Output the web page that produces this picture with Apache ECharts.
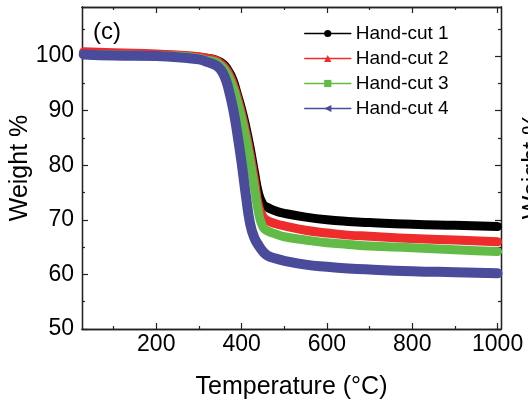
<!DOCTYPE html>
<html lang="en">
<head>
    <meta charset="UTF-8">
    <title>TGA</title>
    <style>
        html, body { margin: 0; padding: 0; background: #fff; }
    </style>
</head>
<body>
<div id="main" style="width:528px;height:400px"></div>
<script src="https://cdn.jsdelivr.net/npm/echarts@6/dist/echarts.min.js"></script>
<script>
    // temperature (°C) shared by all four curves
    var temps = [30, 100, 200, 250, 300, 320, 340, 350, 360, 370, 380, 390, 400, 410, 420, 430, 440, 450, 460, 480, 500, 550, 600, 650, 700, 800, 900, 1000];
    var cut1 = [100.6, 100.4, 100.2, 100.1, 99.8, 99.6, 99.3, 98.9, 98.3, 97.2, 95.6, 93.0, 90.3, 87.0, 83.2, 78.8, 74.8, 72.9, 72.3, 71.6, 71.2, 70.5, 70.0, 69.7, 69.5, 69.2, 69.0, 68.8];
    var cut2 = [100.8, 100.6, 100.4, 100.2, 99.9, 99.6, 99.2, 98.7, 98.0, 96.8, 95.0, 92.4, 89.5, 86.0, 82.0, 77.5, 72.5, 70.6, 69.9, 69.3, 68.9, 68.1, 67.6, 67.2, 67.0, 66.6, 66.3, 66.0];
    var cut3 = [100.3, 100.2, 100.1, 100.0, 99.6, 99.2, 98.9, 98.3, 97.5, 96.2, 94.3, 91.6, 88.6, 85.0, 80.8, 76.0, 71.2, 68.7, 68.0, 67.4, 66.9, 66.3, 65.8, 65.5, 65.2, 64.9, 64.5, 64.2];
    var cut4 = [100.3, 100.1, 100.0, 99.8, 99.4, 98.9, 98.3, 97.6, 96.3, 93.8, 90.4, 85.8, 80.5, 74.5, 69.3, 66.7, 65.3, 64.2, 63.5, 62.9, 62.5, 61.8, 61.4, 61.1, 60.9, 60.6, 60.4, 60.2];

    var names = ['Hand-cut 1', 'Hand-cut 2', 'Hand-cut 3', 'Hand-cut 4'];
    var colors = ['#000000', '#ee2c2c', '#62bb46', '#4b4b9c'];
    var symbols = ['circle', 'triangle', 'rect', 'path://M0,5L10,0L10,10Z'];

    var xMajor = [200, 400, 600, 800, 1000];
    var xMinor = [100, 300, 500, 700, 900];
    var yMajor = [50, 60, 70, 80, 90, 100];
    var yMinor = [55, 65, 75, 85, 95, 105];

    var font = '"Liberation Sans", Arial, sans-serif';
    var axisColor = '#222';

    function zip(xs, ys) {
        var out = [];
        for (var i = 0; i < xs.length; i++) out.push([xs[i], ys[i]]);
        return out;
    }

    function plain(v) { return String(v); }

    function xAx(pos, ticks, len, labels) {
        return {
            type: 'value', position: pos, min: 26, max: 1008,
            axisLine: {show: true, onZero: false, lineStyle: {color: axisColor, width: 1.3}},
            axisTick: {show: true, inside: true, length: len, customValues: ticks, lineStyle: {color: axisColor, width: 1.2}},
            axisLabel: labels ? {show: true, customValues: ticks, formatter: plain, color: '#000', fontSize: 23, fontFamily: font, margin: 4} : {show: false},
            splitLine: {show: false}
        };
    }

    function yAx(pos, ticks, len, labels) {
        return {
            type: 'value', position: pos, min: 50, max: 109,
            axisLine: {show: true, onZero: false, lineStyle: {color: axisColor, width: 1.3}},
            axisTick: {show: true, inside: true, length: len, customValues: ticks, lineStyle: {color: axisColor, width: 1.2}},
            axisLabel: labels ? {show: true, customValues: ticks, formatter: plain, color: '#000', fontSize: 23, fontFamily: font, margin: 8} : {show: false},
            splitLine: {show: false}
        };
    }

    var xAxes = [xAx('bottom', xMajor, 6, true), xAx('bottom', xMinor, 3, false),
        xAx('top', xMajor, 6, false), xAx('top', xMinor, 3, false)];
    xAxes[0].name = 'Temperature (\u00b0C)';
    xAxes[0].nameLocation = 'middle';
    xAxes[0].nameGap = 46;
    xAxes[0].nameTextStyle = {color: '#000', fontSize: 25, fontFamily: font};

    var yAxes = [yAx('left', yMajor, 6, true), yAx('left', yMinor, 3, false),
        yAx('right', yMajor, 6, false), yAx('right', yMinor, 3, false)];
    yAxes[0].name = 'Weight %';
    yAxes[0].nameLocation = 'middle';
    yAxes[0].nameGap = 49;
    yAxes[0].nameMoveOverlap = false;
    yAxes[0].nameTextStyle = {color: '#000', fontSize: 25, fontFamily: font};

    var series = [];
    var all = [cut1, cut2, cut3, cut4];
    for (var i = 0; i < all.length; i++) {
        series.push({
            name: names[i],
            type: 'line',
            xAxisIndex: 0,
            yAxisIndex: 0,
            data: zip(temps, all[i]),
            symbol: symbols[i],
            showSymbol: false,
            smooth: 0.5,
            color: colors[i],
            itemStyle: {color: colors[i]},
            lineStyle: {color: colors[i], width: i === 3 ? 10 : 9, cap: 'round', join: 'round'},
            emphasis: {disabled: true}
        });
    }

    var chart = echarts.init(document.getElementById('main'), null, {renderer: 'canvas'});
    chart.setOption({
        animation: false,
        backgroundColor: '#fff',
        textStyle: {fontFamily: font},
        grid: {left: 82, top: 7, right: 27, bottom: 71, containLabel: false, outerBoundsMode: 'none'},
        legend: {
            orient: 'vertical',
            left: 299,
            top: 19,
            itemWidth: 46,
            itemHeight: 9,
            itemGap: 6,
            data: names,
            textStyle: {color: '#000', fontSize: 19, fontFamily: font},
            lineStyle: {width: 1.5},
            selectedMode: false
        },
        xAxis: xAxes,
        yAxis: yAxes,
        series: series,
        graphic: [
            {type: 'text', left: 93, top: 20, style: {text: '(c)', fill: '#000', font: '24px ' + font}},
            {type: 'text', x: 533, y: 166, rotation: Math.PI / 2,
                style: {text: 'Weight %', fill: '#000', font: '25px ' + font, textAlign: 'center', textVerticalAlign: 'middle'}}
        ]
    });
</script>
</body>
</html>
